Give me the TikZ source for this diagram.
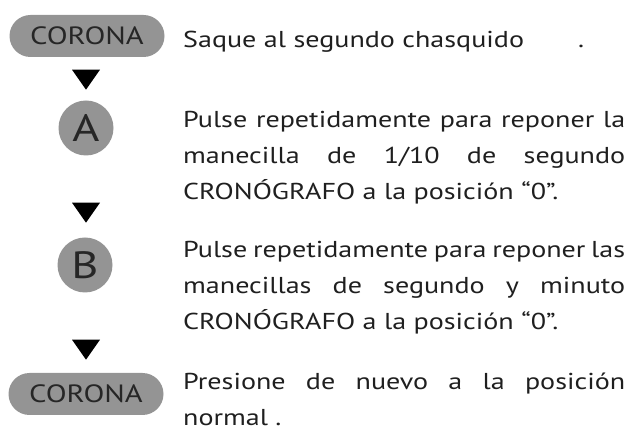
\documentclass[tikz,border=0pt]{standalone}
\usepackage{fontspec}
\setmainfont{PT Sans}[FakeStretch=1.22]
\usetikzlibrary{positioning, shapes.geometric}

\begin{document}
\begin{tikzpicture}[x=1pt,y=-1pt,
        button/.style={draw=none,fill=black!42,text=black!85,inner sep=0pt},
        crown/.style={button,rectangle,rounded corners=21pt,minimum width=155pt,minimum height=42pt,font=\fontsize{25}{25}\selectfont},
        pusher/.style={button,circle,minimum size=55pt,font=\fontsize{38}{38}\selectfont},
        down/.style={isosceles triangle,isosceles triangle apex angle=70,isosceles triangle stretches,shape border rotate=-90,
            fill=black,inner sep=0pt,minimum height=20pt,minimum width=28pt},
        instr/.style={anchor=base west,text width=442pt,align=justify,inner sep=0pt,text=black!88,font=\fontsize{23}{36}\selectfont}]

        \useasboundingbox (0,0) rectangle (635,443);

        \node[crown] (corona1) at (87,36) {CORONA};
        \node[down] (arr1) at (86,77) {};
        \node[pusher] (a) at (86,128) {A};
        \node[down] (arr2) at (86,210) {};
        \node[pusher] (b) at (85,265) {B};
        \node[down] (arr3) at (86,347) {};
        \node[crown] (corona2) at (86,394) {CORONA};

        \node[instr] (step0) at (183,48) {Saque al segundo chasquido\hspace*{54pt}.};
        \node[instr] (stepa) at (183,128) {Pulse repetidamente para reponer la\linebreak
            manecilla de 1/10 de segundo\linebreak CRONÓGRAFO a la posición “0”.};
        \node[instr] (stepb) at (183,258) {Pulse repetidamente para reponer las\linebreak
            manecillas de segundo y minuto\linebreak CRONÓGRAFO a la posición “0”.};
        \node[instr] (stepc) at (183,390) {Presione de nuevo a la posición\linebreak normal .};
\end{tikzpicture}
\end{document}
